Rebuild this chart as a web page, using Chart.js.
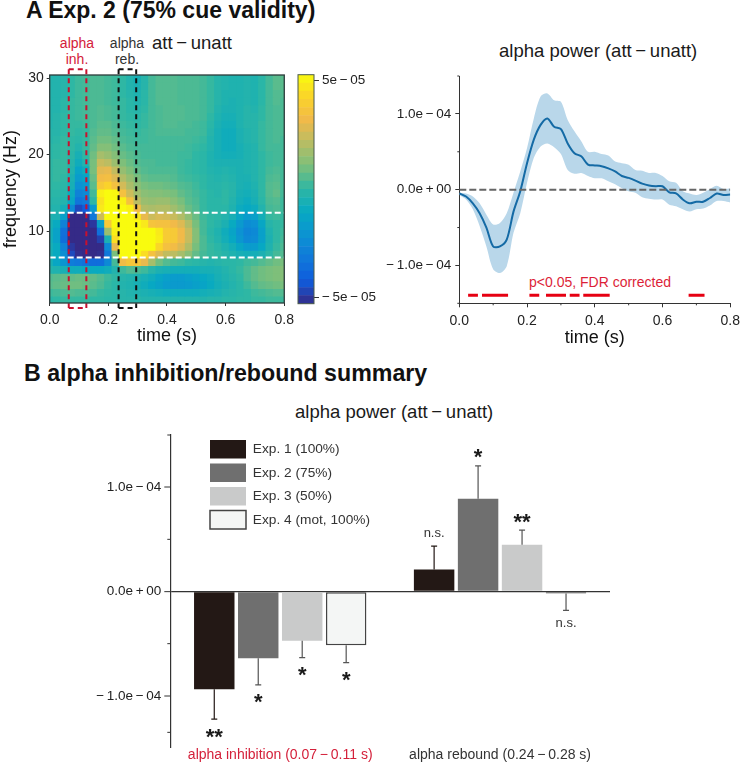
<!DOCTYPE html>
<html>
<head>
<meta charset="utf-8">
<title>Exp. 2 alpha power</title>
<script src="https://cdn.jsdelivr.net/npm/chart.js"></script>
<style>
  body { margin: 0; background: #fff; }
  #page { position: relative; width: 745px; height: 762px; overflow: hidden; font-family: "Liberation Sans", Arial, sans-serif; }
  canvas { position: absolute; }
  .t { position: absolute; white-space: nowrap; line-height: 1; color: #1a1a1a; }
  .h { font-weight: bold; font-size: 23px; color: #111; }
  .s { font-size: 18.5px; }
  .c { font-size: 14px; width: 60px; text-align: center; }
</style>
</head>
<body>
<div id="page">
  <div class="t h" style="left:26px;top:-1px">A Exp. 2 (75% cue validity)</div>
  <div class="t h" style="left:24px;top:362px;font-size:23.2px">B alpha inhibition/rebound summary</div>
  <div class="t c" style="left:47px;top:36px;color:#d4203a">alpha</div>
  <div class="t c" style="left:47px;top:52px;color:#d4203a">inh.</div>
  <div class="t c" style="left:97px;top:36px;color:#333">alpha</div>
  <div class="t c" style="left:97px;top:52px;color:#333">reb.</div>
  <div class="t s" style="left:152px;top:34px">att&#8201;&minus;&#8201;unatt</div>
  <div class="t s" style="left:499px;top:42px">alpha power (att&#8201;&minus;&#8201;unatt)</div>
  <div class="t s" style="left:295px;top:403px">alpha power (att&#8201;&minus;&#8201;unatt)</div>
  <div class="t" style="left:529px;top:275px;font-size:14px;color:#dc1f38">p&lt;0.05, FDR corrected</div>
  <canvas id="heat" width="300" height="290" style="left:0;top:60px"></canvas>
  <canvas id="colorbar" width="90" height="290" style="left:292px;top:60px"></canvas>
  <canvas id="line" width="373" height="290" style="left:372px;top:60px"></canvas>
  <canvas id="bars" width="570" height="342" style="left:60px;top:420px"></canvas>
</div>
<script>
  const MINUS = "\u2009\u2212\u2009";
  const PLUS = "\u2009+\u2009";
  const NEG = "\u2212\u2009";

  // heatmap, units of 1e-5
  const heatTimes = [0, 0.025, 0.05, 0.075, 0.1, 0.125, 0.15, 0.175, 0.2, 0.225, 0.25, 0.275, 0.3, 0.325, 0.35, 0.375, 0.4, 0.425, 0.45, 0.475, 0.5, 0.525, 0.55, 0.575, 0.6, 0.625, 0.65, 0.675, 0.7, 0.725, 0.75, 0.775, 0.8];
  const heatFreqs = [30, 29, 28, 27, 26, 25, 24, 23, 22, 21, 20, 19, 18, 17, 16, 15, 14, 13, 12, 11, 10, 9, 8, 7, 6, 5, 4, 3, 2, 1];
  const heatValues = [
    [-.3,-.3,-.2,0,.2,.3,.4,.4,.3,.2,0,-.3,-.6,-.2,.3,.5,.5,.5,.4,.4,.4,.3,.1,-.2,-.3,-.4,-.4,-.3,-.4,-.1,.3,.6,.6],
    [-.3,-.3,-.2,0,.2,.3,.4,.4,.3,.2,0,-.3,-.5,-.2,.3,.5,.5,.5,.4,.4,.4,.3,.1,-.2,-.3,-.4,-.4,-.3,-.4,-.1,.3,.6,.6],
    [-.3,-.3,-.2,0,.2,.3,.4,.4,.3,.2,0,-.2,-.4,-.1,.3,.5,.5,.5,.4,.4,.4,.3,.1,-.2,-.4,-.4,-.4,-.3,-.4,-.1,.3,.5,.5],
    [-.3,-.3,-.1,.1,.2,.3,.4,.4,.3,.2,.1,-.1,-.3,-.1,.3,.5,.5,.5,.4,.4,.4,.3,.1,-.2,-.4,-.5,-.4,-.3,-.4,-.1,.3,.5,.4],
    [-.3,-.3,-.1,.1,.2,.3,.4,.5,.4,.3,.1,-.1,-.2,0,.3,.4,.5,.5,.5,.4,.4,.3,.1,-.3,-.5,-.5,-.4,-.2,-.3,0,.3,.4,.4],
    [-.3,-.2,0,.1,.2,.3,.4,.5,.4,.3,.1,0,-.1,.1,.3,.4,.5,.5,.5,.4,.4,.3,0,-.4,-.6,-.6,-.4,-.2,-.2,0,.3,.4,.4],
    [-.3,-.2,0,.1,.1,.2,.4,.6,.6,.4,.2,.1,0,.1,.3,.4,.5,.5,.4,.4,.3,.2,-.1,-.5,-.7,-.7,-.4,-.2,-.2,.1,.3,.4,.4],
    [-.2,-.2,0,.1,0,.1,.5,.7,.7,.5,.3,.2,.1,.2,.3,.4,.4,.4,.4,.3,.3,.2,-.2,-.6,-.8,-.8,-.5,-.3,-.2,.1,.3,.4,.4],
    [-.2,-.1,.1,0,-.1,.1,.6,.9,.9,.7,.4,.3,.2,.2,.3,.3,.3,.3,.3,.3,.2,.1,-.3,-.6,-.8,-.8,-.5,-.3,-.2,.1,.3,.4,.3],
    [-.1,0,.1,0,-.3,.1,.7,1.2,1.2,.9,.6,.4,.3,.3,.3,.3,.3,.3,.3,.2,.1,0,-.3,-.6,-.8,-.8,-.6,-.4,-.3,.1,.3,.3,.3],
    [-.1,0,.1,-.1,-.6,0,.9,1.8,1.6,1.2,.8,.6,.4,.3,.3,.3,.3,.3,.2,.2,0,-.1,-.4,-.6,-.7,-.7,-.6,-.4,-.3,0,.2,.3,.3],
    [0,.1,.1,-.2,-.8,-.3,1,2.4,2.2,1.6,1.1,.8,.5,.4,.4,.3,.3,.3,.2,.1,0,-.1,-.4,-.5,-.5,-.5,-.5,-.4,-.3,0,.2,.3,.3],
    [0,.1,.1,-.3,-1.3,-.8,1,2.9,3,2.3,1.5,1.1,.7,.5,.4,.4,.4,.4,.2,.1,0,-.1,-.3,-.4,-.3,-.4,-.5,-.4,-.3,0,.3,.4,.3],
    [0,.1,0,-.5,-1.7,-1.3,.8,3.3,3.4,2.8,2,1.5,1,.7,.6,.6,.6,.5,.3,.2,.1,0,-.2,-.3,-.2,-.3,-.5,-.5,-.3,0,.4,.5,.3],
    [0,0,-.1,-.6,-2.2,-1.9,.6,3.8,4.2,3.5,2.6,1.9,1.3,1,.9,.9,.8,.7,.5,.4,.2,0,-.2,-.2,-.1,-.2,-.5,-.6,-.4,0,.5,.6,.3],
    [-.1,-.1,-.2,-.9,-2.8,-2.5,.3,5,5.4,5.2,3.5,2.5,1.7,1.3,1.2,1.2,1.1,1,.7,.5,.3,.1,-.1,-.2,0,-.2,-.6,-.7,-.5,0,.5,.7,.3],
    [-.2,-.2,-.3,-1.2,-3.3,-3.1,0,4.6,5.4,5.4,5,3.5,2.2,1.6,1.5,1.6,1.6,1.3,1,.6,.4,.1,-.1,-.1,0,-.3,-.7,-.9,-.6,-.1,.4,.5,.2],
    [-.3,-.3,-.7,-2.5,-4.6,-4.2,-1.8,4.8,5.4,5.4,5.4,5,3.3,2,1.9,2,2,1.7,1.3,.8,.5,.1,-.1,-.1,-.1,-.4,-.9,-1.1,-.9,-.3,.3,.4,.2],
    [-.4,-.5,-1.5,-5.3,-5.4,-5.3,-3.2,2.5,5.3,5.4,5.4,5.4,4.8,3,2.5,2.7,2.6,2.4,2,1.4,.8,.2,0,-.1,-.3,-.6,-1.2,-1.7,-1.5,-.7,.1,.2,.1],
    [-.6,-1,-2.8,-5.4,-5.4,-5.4,-5,-1.5,3.8,5.3,5.4,5.4,5.4,4.8,3.6,3.5,3.5,3.2,2.8,2,1,.3,0,-.2,-.5,-1,-1.8,-2.4,-2.2,-1.2,-.2,0,.1],
    [-.7,-1.4,-3.5,-5.4,-5.4,-5.4,-5.4,-3.5,1.6,5,5.4,5.4,5.4,5.4,5.4,4.8,3.9,3.8,3.2,2.4,1.2,.3,-.1,-.4,-.8,-1.3,-2.1,-2.7,-2.5,-1.5,-.4,0,.2],
    [-.7,-1.4,-3.6,-5.4,-5.4,-5.4,-5.4,-4.8,-.5,4.5,5.4,5.4,5.4,5.4,5.4,4.9,3.9,3.8,3.2,2.4,1.2,.4,0,-.3,-.7,-1.1,-1.9,-2.5,-2.4,-1.5,-.5,0,.3],
    [-.6,-1,-2.8,-5,-5.4,-5.4,-5.4,-5.4,-2.5,3,5.4,5.4,5.4,5.4,5.3,4.3,3.5,3.3,2.8,2,1,.4,.1,-.1,-.4,-.7,-1.2,-1.7,-1.7,-1.1,-.4,.1,.4],
    [-.6,-1,-2.3,-4.6,-5.2,-5.4,-5.4,-5.2,-3.2,1,5.3,5.4,5.4,4.5,3.5,2.8,2.3,2.2,1.8,1.3,.7,.3,.1,0,-.2,-.4,-.6,-.7,-.7,-.5,-.1,.3,.5],
    [-.6,-1.2,-2,-3,-3.2,-3.4,-3.6,-3.6,-2.5,.3,3.3,3.7,3.7,3,1.8,.9,.5,.3,.2,0,-.1,-.2,-.3,-.2,-.1,-.1,0,.2,.3,.5,.7,.9,1],
    [-.3,-.4,-.6,-.8,-.8,-.9,-1,-1,-.8,-.3,.2,.5,.4,.2,-.2,-.5,-.6,-.7,-.7,-.7,-.7,-.6,-.6,-.5,-.3,-.1,.1,.4,.7,.9,1,1.1,1.2],
    [.5,.6,.7,.7,.8,.8,.7,.5,.2,0,-.2,-.3,-.4,-.6,-.8,-1.2,-1.5,-1.7,-1.7,-1.5,-1.3,-1.1,-.9,-.6,-.4,-.2,0,.4,.7,.9,1,1.1,1.2],
    [.6,.7,.8,.9,.9,.8,.6,.4,.1,-.1,-.3,-.4,-.6,-.8,-1.1,-1.4,-1.7,-1.8,-1.8,-1.7,-1.5,-1.3,-1,-.7,-.5,-.3,-.1,.2,.5,.7,.8,.9,1],
    [.2,.3,.4,.5,.4,.4,.3,.1,0,-.1,-.2,-.3,-.4,-.5,-.6,-.7,-.8,-.8,-.8,-.8,-.8,-.7,-.6,-.5,-.3,-.2,-.1,0,.2,.3,.4,.5,.5],
    [-.1,0,.1,.1,.1,.1,0,0,-.1,-.1,-.2,-.2,-.2,-.3,-.3,-.3,-.3,-.3,-.3,-.3,-.3,-.3,-.2,-.2,-.1,-.1,0,0,.1,.1,.2,.2,.2]
  ];
  const heatTimeTicks = [0, 0.2, 0.4, 0.6, 0.8];
  const heatFreqTicks = [10, 20, 30];
  const alphaBand = [6.56, 12.4];
  const inhWindow = [0.065, 0.125];
  const rebWindow = [0.235, 0.295];

  const colorbarEdges = [-5.28, -4.9, -4.53, -4.15, -3.77, -3.4, -3.02, -2.64, -2.26, -1.89, -1.51, -1.13, -0.75, -0.38, 0, 0.38, 0.75, 1.13, 1.51, 1.89, 2.26, 2.64, 3.02, 3.4, 3.77, 4.15, 4.53, 4.9, 5.28];
  const colorbarTicks = [-5, 5];
  const colorbarLabels = [NEG + "5e" + MINUS + "05", "5e" + MINUS + "05"];

  // alpha power time course, units of 1e-4
  const lineTimes = [0, 0.02, 0.04, 0.06, 0.08, 0.1, 0.12, 0.14, 0.16, 0.18, 0.2, 0.22, 0.24, 0.26, 0.28, 0.3, 0.32, 0.34, 0.36, 0.38, 0.4, 0.42, 0.44, 0.46, 0.48, 0.5, 0.52, 0.54, 0.56, 0.58, 0.6, 0.62, 0.64, 0.66, 0.68, 0.7, 0.72, 0.74, 0.76, 0.78, 0.8];
  const lineMean = [-0.05, -0.09, -0.18, -0.31, -0.5, -0.75, -0.75, -0.66, -0.29, -0.02, 0.35, 0.66, 0.855, 0.94, 0.83, 0.8, 0.61, 0.48, 0.44, 0.33, 0.32, 0.31, 0.28, 0.24, 0.18, 0.155, 0.12, 0.08, 0.055, 0.045, 0.045, -0.035, -0.05, -0.13, -0.18, -0.16, -0.16, -0.11, -0.05, -0.07, -0.065];
  const lineUpper = [-0.04, -0.05, -0.09, -0.18, -0.33, -0.46, -0.44, -0.31, -0.04, 0.24, 0.55, 0.94, 1.23, 1.27, 1.18, 1.16, 0.92, 0.77, 0.64, 0.5, 0.5, 0.47, 0.45, 0.37, 0.35, 0.33, 0.26, 0.25, 0.22, 0.22, 0.18, 0.11, 0.09, -0.02, -0.05, -0.07, -0.04, 0.01, 0.05, 0.01, 0.02];
  const lineLower = [-0.07, -0.13, -0.26, -0.48, -0.75, -1.05, -1.1, -1.01, -0.57, -0.31, 0.09, 0.42, 0.57, 0.61, 0.56, 0.47, 0.26, 0.21, 0.22, 0.18, 0.15, 0.15, 0.11, 0.07, 0.02, -0.02, -0.04, -0.1, -0.12, -0.13, -0.13, -0.2, -0.22, -0.26, -0.29, -0.26, -0.25, -0.21, -0.15, -0.15, -0.17];
  const sigSegments = [[0.026, 0.055], [0.067, 0.144], [0.207, 0.236], [0.256, 0.315], [0.326, 0.355], [0.366, 0.444], [0.677, 0.724]];
  const sigLevel = -1.395;
  const lineYTicks = [-1, 0, 1];
  const lineYLabels = [NEG + "1.0e" + MINUS + "04", "0.0e" + PLUS + "00", "1.0e" + MINUS + "04"];
  const lineYMinor = [-1.5, -0.5, 0.5, 1.5];
  const lineXTicks = [0, 0.2, 0.4, 0.6, 0.8];
  const lineXMinor = [0.1, 0.3, 0.5, 0.7];

  // summary bars, units of 1e-4
  const barCategories = ["alpha inhibition (0.07" + MINUS + "0.11 s)", "alpha rebound (0.24" + MINUS + "0.28 s)"];
  const expNames = ["Exp. 1 (100%)", "Exp. 2 (75%)", "Exp. 3 (50%)", "Exp. 4 (mot, 100%)"];
  const exp1Values = [-0.936, 0.21];
  const exp2Values = [-0.639, 0.89];
  const exp3Values = [-0.473, 0.447];
  const exp4Values = [-0.514, -0.02];
  const exp1ErrEnds = [-1.223, 0.434];
  const exp2ErrEnds = [-0.895, 1.205];
  const exp3ErrEnds = [-0.633, 0.588];
  const exp4ErrEnds = [-0.681, -0.18];
  const exp1Marks = ["**", "n.s."];
  const exp2Marks = ["*", "*"];
  const exp3Marks = ["*", "**"];
  const exp4Marks = ["*", "n.s."];
  const barYTicks = [-1, 0, 1];
  const barYMinor = [-1.35, -0.5, 0.5, 1.5];

  const parula = [[53,42,135],[15,92,221],[16,121,218],[12,147,210],[7,169,194],[46,183,164],[124,191,123],[183,189,100],[241,185,74],[250,211,42],[249,251,14]];
  const COLOR_LIMIT = 5.28;

  function valueColor(v) {
    const f = Math.min(1, Math.max(0, (v + COLOR_LIMIT) / (2 * COLOR_LIMIT))) * (parula.length - 1);
    const i = Math.min(parula.length - 2, Math.floor(f));
    const c = parula[i].map((a, k) => Math.round(a + (parula[i + 1][k] - a) * (f - i)));
    return `rgb(${c[0]},${c[1]},${c[2]})`;
  }

  const fixWidth = w => s => { s.width = w; };
  const fixHeight = h => s => { s.height = h; };
  const tickList = list => s => { s.ticks = list.map(value => ({ value })); };

  Chart.defaults.font.family = '"Liberation Sans", Arial, sans-serif';
  Chart.defaults.color = "#222";
  Chart.defaults.animation = false;
  Chart.defaults.responsive = false;
  Chart.defaults.plugins.legend.display = false;
  Chart.defaults.plugins.tooltip.enabled = false;

  function plotFrame(color, width) {
    return {
      id: "plotFrame",
      afterDatasetsDraw(chart) {
        const a = chart.chartArea, c = chart.ctx;
        c.save();
        c.strokeStyle = color;
        c.lineWidth = width;
        c.strokeRect(a.left, a.top, a.right - a.left, a.bottom - a.top);
        c.restore();
      }
    };
  }

  function minorTicks(xList, yList, len) {
    return {
      id: "minorTicks",
      afterDraw(chart) {
        const a = chart.chartArea, c = chart.ctx;
        c.save();
        c.strokeStyle = "#333";
        c.lineWidth = 1;
        c.beginPath();
        xList.forEach(v => {
          const p = chart.scales.x.getPixelForValue(v);
          c.moveTo(p, a.bottom);
          c.lineTo(p, a.bottom + len);
        });
        yList.forEach(v => {
          const p = chart.scales.y.getPixelForValue(v);
          c.moveTo(a.left - len, p);
          c.lineTo(a.left, p);
        });
        c.stroke();
        c.restore();
      }
    };
  }

  // Heatmap: one floating-bar dataset per frequency row
  const heatDatasets = heatFreqs.map((f, r) => ({
    data: heatTimes.map((t, i) => ({ x: t, y: [f - 0.5, f + 0.5] })),
    backgroundColor: heatValues[r].map(valueColor),
    order: 2
  }));
  const vLine = (x, color, dash) => ({
    type: "line", data: [{ x: x, y: 31.15 }, { x: x, y: -0.05 }], borderColor: color, borderWidth: 2,
    borderDash: dash, pointRadius: 0, clip: false, order: 0
  });
  const hLine = (x0, x1, y, color, dash) => ({
    type: "line", data: [{ x: x0, y: y }, { x: x1, y: y }], borderColor: color, borderWidth: 2,
    borderDash: dash, pointRadius: 0, clip: false, order: 0
  });
  const windowLines = (w, color) => [
    vLine(w[0], color, [5, 4]), vLine(w[1], color, [5, 4]),
    hLine(w[0], w[1], 31.15, color, [5, 4]), hLine(w[0], w[1], -0.05, color, [5, 4])
  ];

  new Chart(document.getElementById("heat"), {
    type: "bar",
    data: {
      datasets: heatDatasets.concat(
        alphaBand.map(f => hLine(0, 0.8, f, "#fff", [6, 3])),
        windowLines(inhWindow, "#c8102e"),
        windowLines(rebWindow, "#111")
      )
    },
    options: {
      layout: { padding: { top: 15, right: 14 } },
      datasets: { bar: { grouped: false, barPercentage: 1, categoryPercentage: 1, inflateAmount: 0.5, borderWidth: 0 } },
      scales: {
        x: {
          type: "linear", min: 0, max: 0.8, offset: false, afterFit: fixHeight(47), afterBuildTicks: tickList(heatTimeTicks),
          grid: { offset: false, drawOnChartArea: false, tickLength: 3, tickColor: "#333" },
          border: { display: false },
          ticks: { font: { size: 14 }, padding: 6, maxRotation: 0, autoSkip: false, callback: v => v.toFixed(1) },
          title: { display: true, text: "time (s)", font: { size: 18 }, color: "#111", padding: { top: 0, bottom: 3 } }
        },
        y: {
          type: "linear", min: 0.6, max: 30.4, afterFit: fixWidth(49.7), afterBuildTicks: tickList(heatFreqTicks),
          grid: { drawOnChartArea: false, tickLength: 3, tickColor: "#333" },
          border: { display: false },
          ticks: { font: { size: 14 }, padding: 3, autoSkip: false },
          title: { display: true, text: "frequency (Hz)", font: { size: 18 }, color: "#111", padding: 0 }
        }
      }
    },
    plugins: [plotFrame("#2b3a3a", 1.3)]
  });

  // Colour bar
  new Chart(document.getElementById("colorbar"), {
    type: "bar",
    data: {
      labels: [""],
      datasets: colorbarEdges.slice(1).map((e, i) => ({
        data: [[colorbarEdges[i], e]],
        backgroundColor: valueColor((colorbarEdges[i] + e) / 2)
      }))
    },
    options: {
      layout: { padding: { left: 6, top: 14.7, bottom: 46.3 } },
      datasets: { bar: { grouped: false, barPercentage: 1, categoryPercentage: 1, inflateAmount: 0.3, borderWidth: 0 } },
      scales: {
        x: { display: false },
        y: {
          position: "right", min: -COLOR_LIMIT, max: COLOR_LIMIT, afterFit: fixWidth(68), afterBuildTicks: tickList(colorbarTicks),
          grid: { drawOnChartArea: false, tickLength: 5, tickColor: "#333" },
          border: { display: false },
          ticks: { font: { size: 13.5 }, padding: 3, autoSkip: false, callback: v => colorbarLabels[colorbarTicks.indexOf(v)] }
        }
      }
    },
    plugins: [plotFrame("#4a5a4a", 1)]
  });

  // Alpha power time course
  const xy = ys => lineTimes.map((t, i) => ({ x: t, y: ys[i] }));
  new Chart(document.getElementById("line"), {
    type: "line",
    data: {
      datasets: [
        { data: xy(lineMean), borderColor: "#146aa5", borderWidth: 2, tension: 0.3, order: 1 },
        { data: [{ x: 0, y: 0 }, { x: 0.8, y: 0 }], borderColor: "#666", borderWidth: 2, borderDash: [7, 3], order: 0 },
        { data: xy(lineUpper), borderWidth: 0, borderColor: "transparent", backgroundColor: "#b9d7ea", fill: "+1", tension: 0.3, order: 3 },
        { data: xy(lineLower), borderWidth: 0, borderColor: "transparent", tension: 0.3, order: 3 },
        {
          data: sigSegments.flatMap(s => [{ x: s[0], y: sigLevel }, { x: s[1], y: sigLevel }, { x: s[1], y: null }]),
          borderColor: "#e60012", borderWidth: 3, spanGaps: false, order: 0
        }
      ]
    },
    options: {
      layout: { padding: { top: 16, right: 9.3 } },
      elements: { point: { radius: 0 } },
      scales: {
        x: {
          type: "linear", min: 0, max: 0.8, afterFit: fixHeight(46.7), afterBuildTicks: tickList(lineXTicks),
          grid: { drawOnChartArea: false, tickLength: 4, tickColor: "#333" },
          border: { color: "#333" },
          ticks: { font: { size: 14 }, padding: 5, maxRotation: 0, autoSkip: false, callback: v => v.toFixed(1) },
          title: { display: true, text: "time (s)", font: { size: 18 }, color: "#111", padding: { top: 0, bottom: 1 } }
        },
        y: {
          type: "linear", min: -1.5, max: 1.5, afterFit: fixWidth(87.3), afterBuildTicks: tickList(lineYTicks),
          grid: { drawOnChartArea: false, tickLength: 4, tickColor: "#333" },
          border: { color: "#333" },
          ticks: { font: { size: 13.5 }, padding: 4, autoSkip: false, callback: v => lineYLabels[lineYTicks.indexOf(v)] }
        }
      }
    },
    plugins: [minorTicks(lineXMinor, lineYMinor, 2)]
  });

  // Summary bars
  const errEnds = [exp1ErrEnds, exp2ErrEnds, exp3ErrEnds, exp4ErrEnds];
  const marks = [exp1Marks, exp2Marks, exp3Marks, exp4Marks];
  const errColors = ["#231815", "#555", "#555", "#555"];

  const barMarks = {
    id: "barMarks",
    afterDatasetsDraw(chart) {
      const c = chart.ctx, y = chart.scales.y;
      c.save();
      errEnds.forEach((ends, d) => {
        chart.getDatasetMeta(d).data.forEach((bar, i) => {
          const top = y.getPixelForValue(ends[i]);
          const dir = top < bar.y ? -1 : 1;
          c.strokeStyle = errColors[d];
          c.lineWidth = 1.2;
          c.beginPath();
          c.moveTo(bar.x, bar.y);
          c.lineTo(bar.x, top);
          c.moveTo(bar.x - 3, top);
          c.lineTo(bar.x + 3, top);
          c.stroke();
          const label = marks[d][i];
          c.textAlign = "center";
          c.fillStyle = "#1a1a1a";
          if (label === "n.s.") {
            c.font = '13px "Liberation Sans"';
            c.textBaseline = "middle";
            c.fillStyle = "#333";
            c.fillText(label, bar.x, top + dir * 13);
          } else {
            c.font = 'bold 22px "Liberation Sans"';
            c.textBaseline = "alphabetic";
            c.fillText(label, bar.x, top + dir * 13 + 11.5);
          }
        });
      });
      c.restore();
    }
  };

  // the legend sits inside the plot, top left of the empty area
  const legendPlace = {
    id: "legendPlace",
    afterLayout(chart) {
      const l = chart.legend;
      l.left = 145;
      l.top = 15;
      l.right = 145 + l.width;
      l.bottom = 15 + l.height + 4;
    }
  };

  new Chart(document.getElementById("bars"), {
    type: "bar",
    data: {
      labels: barCategories,
      datasets: [
        { label: expNames[0], data: exp1Values, backgroundColor: "#231815" },
        { label: expNames[1], data: exp2Values, backgroundColor: "#6f6f6f" },
        { label: expNames[2], data: exp3Values, backgroundColor: "#c9caca" },
        { label: expNames[3], data: exp4Values, backgroundColor: "#f4f6f5", borderColor: "#444", borderWidth: 1.5, borderSkipped: false }
      ]
    },
    options: {
      layout: { padding: { top: 15, right: 20 } },
      datasets: { bar: { categoryPercentage: 0.8, barPercentage: 0.92 } },
      plugins: {
        legend: {
          display: true, position: "chartArea", align: "start",
          labels: { boxWidth: 36, boxHeight: 18.5, padding: 5, color: "#333", font: { size: 13.7 } }
        }
      },
      scales: {
        x: {
          afterFit: fixHeight(14),
          grid: { display: false, drawTicks: false },
          border: { display: false },
          ticks: { font: { size: 14 }, padding: -1, maxRotation: 0, autoSkip: false, color: ctx => ctx.index === 0 ? "#d4203a" : "#333" }
        },
        y: {
          type: "linear", min: -1.5, max: 1.5, afterFit: fixWidth(110.3), afterBuildTicks: tickList(barYTicks),
          grid: {
            tickLength: 6, tickColor: "#333", tickWidth: 1, color: "#333",
            lineWidth: ctx => ctx.tick && ctx.tick.value === 0 ? 1.3 : 0
          },
          border: { color: "#333", width: 1.2 },
          ticks: { font: { size: 13.5 }, padding: 3, autoSkip: false, callback: v => lineYLabels[barYTicks.indexOf(v)] }
        }
      }
    },
    plugins: [legendPlace, barMarks, minorTicks([], barYMinor, 3)]
  });
</script>
</body>
</html>
